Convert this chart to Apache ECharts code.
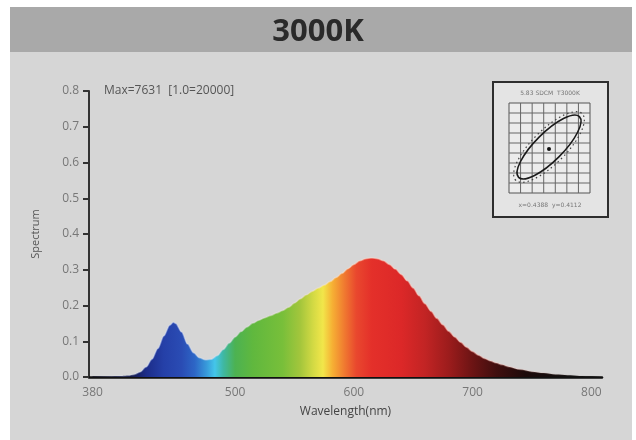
<!DOCTYPE html>
<html><head><meta charset="utf-8">
<script src="https://cdn.jsdelivr.net/npm/echarts@6/dist/echarts.min.js"></script>
<style>html,body{margin:0;padding:0;background:#fff}#c{width:636px;height:440px}</style>
</head><body><div id="c"></div>
<script>
// ---- data ----
const chartTitle = '3000K';
const wavelengths = [380,385,390,395,400,405,410,415,420,425,430,435,440,445,448,450,455,460,465,470,475,480,485,490,495,500,505,510,515,520,525,530,535,540,545,550,555,560,565,570,575,580,585,590,595,600,605,610,615,620,625,630,635,640,645,650,655,660,665,670,675,680,685,690,695,700,705,710,715,720,725,730,740,750,760,770,780,790,800,809];
const spectrum = [0.002,0.002,0.002,0.002,0.003,0.003,0.004,0.007,0.014,0.028,0.05,0.08,0.115,0.145,0.153,0.15,0.126,0.092,0.068,0.054,0.048,0.05,0.06,0.077,0.095,0.112,0.127,0.14,0.151,0.159,0.166,0.172,0.179,0.186,0.195,0.207,0.219,0.23,0.24,0.249,0.257,0.267,0.278,0.29,0.303,0.315,0.325,0.331,0.333,0.331,0.325,0.315,0.302,0.287,0.269,0.249,0.227,0.205,0.184,0.164,0.146,0.128,0.112,0.097,0.083,0.071,0.061,0.052,0.045,0.039,0.034,0.029,0.021,0.015,0.011,0.007,0.005,0.003,0.002,0.002];
const xTickLabels = [380,500,600,700,800];
const yMax = 0.8;
const yInterval = 0.1;
const maxNote = 'Max=7631  [1.0=20000]';
const insetTop = '5.83 SDCM  T3000K';
const insetBottom = 'x=0.4388  y=0.4112';
const xName = 'Wavelength(nm)';
const yName = 'Spectrum';

// ---- styles ----
const colorWl  = [380,412,425,440,455,466,476,483,490,500,515,540,555,566,574,582,592,602,615,640,660,680,700,720,745,780];
const colorHex = ['#121222','#141a48','#1c2c88','#2540a8','#2a4cb4','#2d66c6','#389ada','#44c6ea','#3fb8a4','#4cb252','#60b83e','#78bf3a','#a4c63c','#d4da44','#f2e64a','#f6b034','#f07a30','#e9482e','#e4302a','#dc2828','#c22424','#9c1c1c','#6c1414','#400e0e','#1c0a0a','#111111'];

const wMin = wavelengths[0], wMax = wavelengths[wavelengths.length-1];
const stops = colorWl.map((w,i)=>({offset:Math.min(1,Math.max(0,(w-wMin)/(wMax-wMin))), color:colorHex[i]}));

const chart = echarts.init(document.getElementById('c'));

// inset decoration
const inset = [];
const bx = 493, by = 82, bw = 115, bh = 135;
inset.push({type:'rect', shape:{x:bx,y:by,width:bw,height:bh}, style:{fill:'#e4e4e4',stroke:'#2e2e2e',lineWidth:2}, z:5});
const gx0 = 509, gx1 = 590, gy0 = 103, gy1 = 193, nc = 7, nr = 9;
inset.push({type:'rect', shape:{x:gx0,y:gy0,width:gx1-gx0,height:gy1-gy0}, style:{fill:'#ececec',stroke:'#555',lineWidth:1}, z:5});
for (let i=1;i<nc;i++){ const x = gx0 + (gx1-gx0)*i/nc; inset.push({type:'line', shape:{x1:x,y1:gy0,x2:x,y2:gy1}, style:{stroke:'#666',lineWidth:1}, z:5}); }
for (let j=1;j<nr;j++){ const y = gy0 + (gy1-gy0)*j/nr; inset.push({type:'line', shape:{x1:gx0,y1:y,x2:gx1,y2:y}, style:{stroke:'#666',lineWidth:1}, z:5}); }
inset.push({type:'ellipse', x:549, y:147, rotation:Math.PI/4, shape:{cx:0,cy:0,rx:47,ry:17}, style:{fill:null,stroke:'#444',lineWidth:1.2,lineDash:[1.5,3]}, z:6});
inset.push({type:'ellipse', x:549, y:147, rotation:Math.PI/4, shape:{cx:0,cy:0,rx:43,ry:14}, style:{fill:null,stroke:'#1a1a1a',lineWidth:1.6}, z:6});
inset.push({type:'circle', shape:{cx:549,cy:149,r:2}, style:{fill:'#111'}, z:6});
inset.push({type:'text', x:550, y:93, style:{text:insetTop, fill:'#777', font:'6px "DejaVu Sans"', textAlign:'center', textVerticalAlign:'middle'}, z:6});
inset.push({type:'text', x:550, y:205, style:{text:insetBottom, fill:'#777', font:'6px "DejaVu Sans"', textAlign:'center', textVerticalAlign:'middle'}, z:6});

chart.setOption({
  animation:false,
  backgroundColor:'#ffffff',
  title:{text:chartTitle, left:'center', top:12, textStyle:{fontSize:31,fontWeight:'bold',color:'#2a2a2a',fontFamily:'"Open Sans", "Noto Sans", sans-serif'}},
  graphic:[
    {type:'rect', shape:{x:10,y:7,width:622,height:433}, style:{fill:'#d6d6d6'}, z:-10},
    {type:'rect', shape:{x:10,y:7,width:622,height:45}, style:{fill:'#a9a9a9'}, z:-10},
    {type:'text', x:104, y:91, style:{text:maxNote, fill:'#555', font:'12px "Open Sans", sans-serif', textVerticalAlign:'middle'}, z:5},
    ...inset
  ],
  grid:{left:89, right:34, top:91, bottom:63, containLabel:false},
  xAxis:{
    type:'value', min:377, max:809,
    name:xName, nameLocation:'middle', nameGap:29,
    nameTextStyle:{fontSize:12,color:'#444',fontFamily:'"Open Sans", sans-serif'},
    axisLine:{show:true,lineStyle:{color:'#111',width:2.5}},
    axisTick:{show:false},
    splitLine:{show:false},
    axisLabel:{customValues:xTickLabels, margin:10, fontSize:12, color:'#777', fontFamily:'"Open Sans", sans-serif'}
  },
  yAxis:{
    type:'value', min:0, max:yMax, interval:yInterval,
    name:yName, nameLocation:'middle', nameGap:48, nameRotate:90,
    nameTextStyle:{fontSize:11,color:'#555',fontFamily:'"Open Sans", sans-serif'},
    axisLine:{show:true,lineStyle:{color:'#333',width:2}},
    axisTick:{show:true,length:6,lineStyle:{color:'#333',width:2}},
    splitLine:{show:false},
    axisLabel:{formatter:v=>v.toFixed(1), margin:10, fontSize:12, color:'#777', fontFamily:'"Open Sans", sans-serif'}
  },
  series:[{
    type:'line', data:wavelengths.map((w,i)=>[w,spectrum[i]]),
    smooth:0.3, smoothMonotone:'x', showSymbol:false, symbol:'none', z:3,
    lineStyle:{width:1.5, color:new echarts.graphic.LinearGradient(0,0,1,0,[
      {offset:0,color:'rgba(255,255,255,0)'},{offset:0.12,color:'rgba(210,225,255,0.45)'},
      {offset:0.5,color:'rgba(255,230,210,0.45)'},{offset:0.72,color:'rgba(255,190,180,0.55)'},
      {offset:0.85,color:'rgba(255,190,180,0.2)'},{offset:1,color:'rgba(0,0,0,0)'}])},
    areaStyle:{opacity:1, color:new echarts.graphic.LinearGradient(0,0,1,0,stops)}
  }]
});
</script></body></html>
